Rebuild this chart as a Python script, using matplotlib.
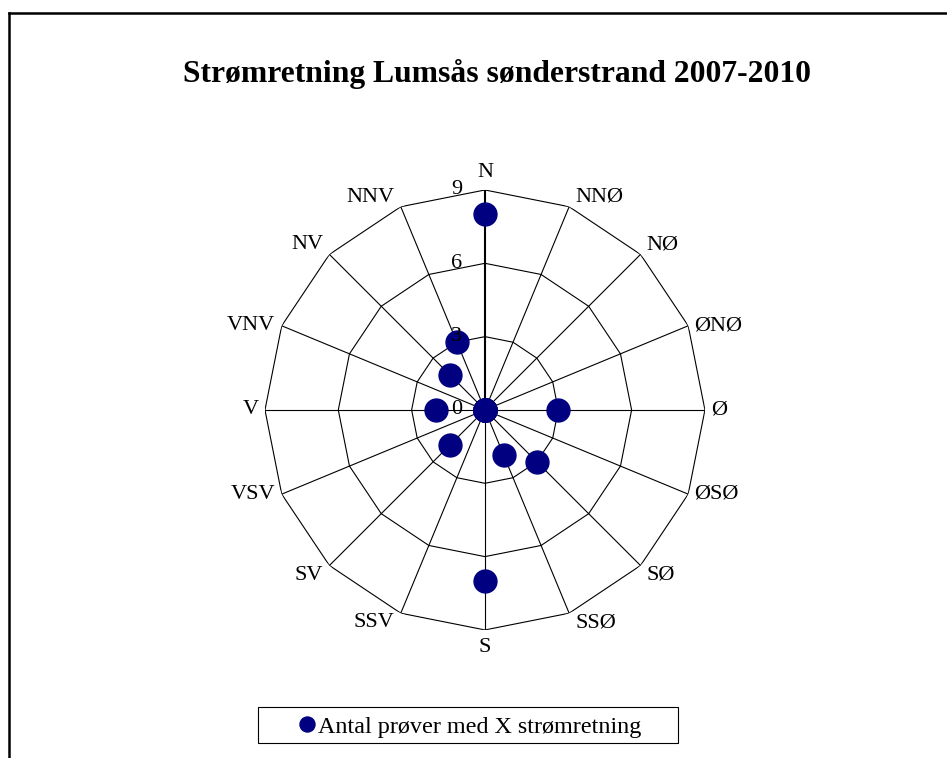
import numpy as np
import matplotlib.pyplot as plt
from matplotlib.lines import Line2D
from matplotlib.patches import Rectangle

plt.rcParams['font.family'] = ['Liberation Serif', 'DejaVu Serif']

# retninger med klokka fra nord
retninger = ['N', 'NNØ', 'NØ', 'ØNØ', 'Ø', 'ØSØ', 'SØ', 'SSØ',
             'S', 'SSV', 'SV', 'VSV', 'V', 'VNV', 'NV', 'NNV']
antall = [8, 0, 0, 0, 3, 0, 3, 2, 7, 0, 2, 0, 2, 0, 2, 3]
nivaer = [0, 3, 6, 9]

tittel = 'Strømretning Lumsås sønderstrand 2007-2010'
serie_navn = 'Antal prøver med X strømretning'
farge = '#000080'

fig = plt.figure(figsize=(9.47, 7.58), dpi=100)

# ytre ramme (bare venstre og topp synlig)
fig.add_artist(Line2D([0.009, 0.009], [0, 0.9835], color='black', lw=1.8,
                      transform=fig.transFigure))
fig.add_artist(Line2D([0.009, 1], [0.9835, 0.9835], color='black', lw=1.8,
                      transform=fig.transFigure))

fig.text(0.5248, 0.8922, tittel, ha='center', va='baseline',
         fontsize=22.8, fontweight='bold')

ax = fig.add_axes([0.2798, 0.1689, 0.4646, 0.5805], projection='polar')
ax.set_theta_zero_location('N')
ax.set_theta_direction(-1)
ax.set_ylim(0, nivaer[-1])
ax.grid(False)
ax.spines['polar'].set_visible(False)
ax.set_xticks([])
ax.set_yticks([])
ax.patch.set_alpha(0)

vinkler = np.linspace(0, 2 * np.pi, len(retninger), endpoint=False)
lukket = np.append(vinkler, vinkler[0])

# polygon-rutenett
for niva in nivaer[1:]:
    ax.plot(lukket, [niva] * len(lukket), color='black', lw=0.8, zorder=1)

# eiker
for i, v in enumerate(vinkler):
    ax.plot([v, v], [0, nivaer[-1]], color='black',
            lw=1.5 if i == 0 else 0.8, zorder=1)

# retningsetiketter
for navn, v in zip(retninger, vinkler):
    s, c = np.sin(v), np.cos(v)
    if abs(s) < 1e-6:
        ha = 'center'
        va = 'bottom' if c > 0 else 'top'
        off = (0, 5.5 * np.sign(c))
    else:
        ha = 'left' if s > 0 else 'right'
        if c > 0.5:
            va = 'bottom'
        elif c < -0.5:
            va = 'top'
        else:
            va = 'center'
        off = (4.5 * np.sign(s), 0)
    ax.annotate(navn, xy=(v, nivaer[-1]), xytext=off, textcoords='offset points',
                ha=ha, va=va, fontsize=16, annotation_clip=False)

# skalaetiketter
for niva in nivaer:
    ax.annotate(str(niva), xy=(0, niva), xytext=(-16.5, 0), textcoords='offset points',
                ha='right', va='center', fontsize=16, zorder=5, annotation_clip=False)

ax.plot(vinkler, antall, linestyle='none', marker='o', markersize=16.5,
        color=farge, label=serie_navn, zorder=3, clip_on=False)

fig.legend(loc='center', bbox_to_anchor=(0.4965, 0.0412), frameon=False,
           fontsize=17.4, markerscale=10.8 / 16.5, handlelength=0.7,
           handletextpad=0.1, borderpad=0)
fig.add_artist(Rectangle((258 / 947, 1 - 743 / 758), 420 / 947, 36 / 758,
                         transform=fig.transFigure, fill=False,
                         edgecolor='black', lw=0.8))

fig.savefig('out.png', dpi=100)
